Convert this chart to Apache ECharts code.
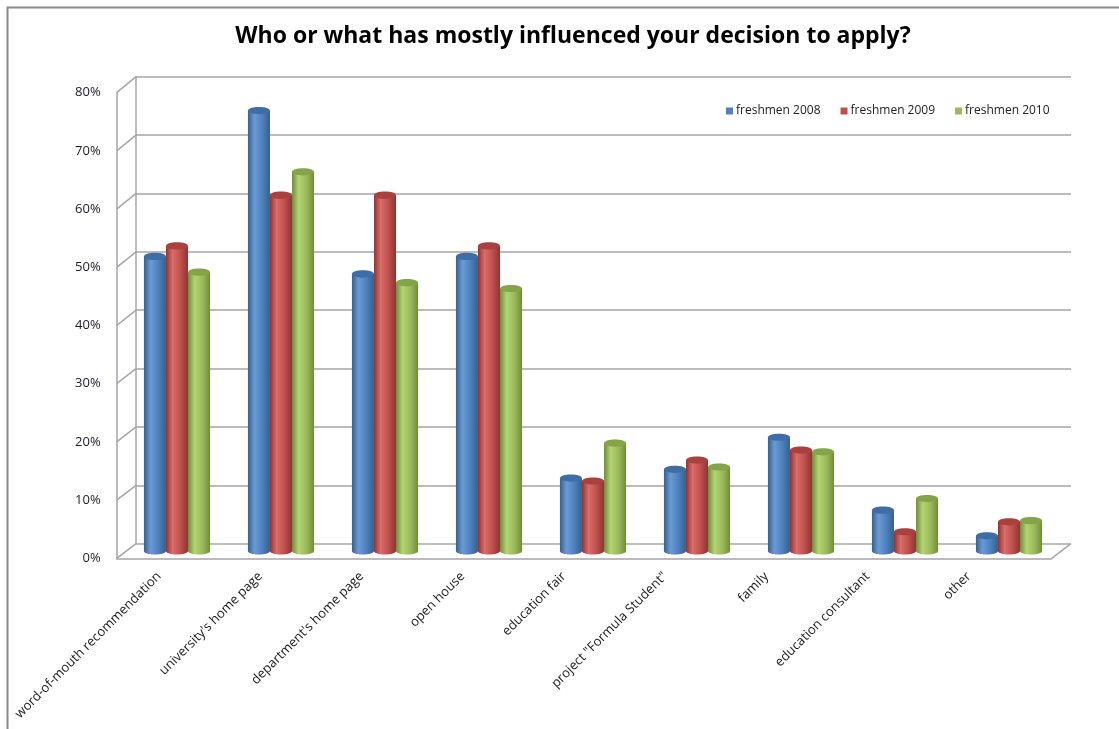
<!DOCTYPE html>
<html>
<head>
<meta charset="utf-8">
<script src="https://cdn.jsdelivr.net/npm/echarts@6/dist/echarts.min.js"></script>
<style>html,body{margin:0;padding:0;background:#fff}#c{width:1119px;height:729px}</style>
</head>
<body>
<div id="c"></div>
<script>
const titleText = 'Who or what has mostly influenced your decision to apply?';
const categories = ['word-of-mouth recommendation', "university's home page", "department's home page", 'open house', 'education fair', 'project "Formula Student"', 'family', 'education consultant', 'other'];
const seriesNames = ['freshmen 2008', 'freshmen 2009', 'freshmen 2010'];
const v2008 = [50.5, 75.5, 47.5, 50.5, 12.5, 14.0, 19.5, 7.0, 2.6];
const v2009 = [52.3, 61.0, 61.0, 52.3, 12.0, 15.6, 17.3, 3.3, 5.0];
const v2010 = [47.8, 65.0, 46.0, 45.0, 18.5, 14.4, 17.0, 9.0, 5.2];
const yMin = 0, yMax = 80, yStep = 10;

const palette = [
  {base: '#4F81BD', light: '#6A9AD6', dark: '#36608F', top: '#3F6DA6'},
  {base: '#C0504D', light: '#D96D6A', dark: '#8E3432', top: '#A9413E'},
  {base: '#9BBB59', light: '#B3D274', dark: '#718C3A', top: '#85A449'}
];
const values = [v2008, v2009, v2010];
const FONT = 'Open Sans';

function grad(p) {
  return new echarts.graphic.LinearGradient(0, 0, 1, 0, [
    {offset: 0, color: p.dark},
    {offset: 0.3, color: p.light},
    {offset: 0.65, color: p.base},
    {offset: 1, color: p.dark}
  ]);
}

function makeRender(si) {
  return function (params, api) {
    const ci = api.value(0), v = api.value(1);
    const top = api.coord([ci, v]);
    const base = api.coord([ci, 0]);
    const band = api.size([1, 0])[0];
    const w = band * 0.212;
    const cx = top[0] + (si - 1) * w;
    const ry = 3.6;
    const p = palette[si];
    return {
      type: 'group',
      children: [
        {type: 'ellipse', shape: {cx: cx, cy: base[1], rx: w / 2, ry: ry}, style: {fill: grad(p)}},
        {type: 'rect', shape: {x: cx - w / 2, y: top[1], width: w, height: base[1] - top[1]}, style: {fill: grad(p)}},
        {type: 'ellipse', shape: {cx: cx, cy: top[1], rx: w / 2, ry: ry}, style: {fill: p.top}}
      ]
    };
  };
}

const chart = echarts.init(document.getElementById('c'));

const series = seriesNames.map((name, si) => ({
  name: name,
  type: 'custom',
  xAxisIndex: 2,
  yAxisIndex: 2,
  itemStyle: {color: palette[si].base},
  renderItem: makeRender(si),
  encode: {x: 0, y: 1},
  data: values[si].map((v, i) => [i, v]),
  z: 5
}));

const option = {
  animation: false,
  backgroundColor: '#ffffff',
  title: {
    text: titleText,
    left: 568,
    textAlign: 'center',
    top: 20,
    textStyle: {fontFamily: FONT, fontSize: 23, fontWeight: 'bold', color: '#000'}
  },
  legend: {
    data: seriesNames,
    left: 721,
    top: 100,
    icon: 'rect',
    itemWidth: 7,
    itemHeight: 7,
    itemGap: 20,
    textStyle: {fontFamily: FONT, fontSize: 12, color: '#222', padding: [0, 0, 0, -2]}
  },
  grid: [
    {left: 136, right: 48, top: 76.7, bottom: 185.3},
    {left: 116.7, right: 67.3, top: 92.7, bottom: 170.7},
    {left: 125, right: 58, top: 84.3, bottom: 178},
    {left: 108.5, right: 99.5, top: 92.7, bottom: 170.7}
  ],
  xAxis: [
    {gridIndex: 0, type: 'value', min: 0, max: 1, show: false},
    {gridIndex: 1, type: 'value', min: 0, max: 1, axisLine: {show: true, lineStyle: {color: '#a6a6a6', width: 1.5}}, axisTick: {show: false}, axisLabel: {show: false}, splitLine: {show: false}},
    {gridIndex: 2, type: 'category', data: categories, show: false},
    {gridIndex: 3, type: 'category', data: categories, axisLine: {show: false}, axisTick: {show: false},
      axisLabel: {interval: 0, rotate: 45, margin: 16, fontFamily: FONT, fontSize: 13, color: '#1a1a1a'}}
  ],
  yAxis: [
    {gridIndex: 0, type: 'value', min: yMin, max: yMax, interval: yStep,
      axisLine: {show: true, lineStyle: {color: '#a6a6a6', width: 1.5}}, axisTick: {show: false}, axisLabel: {show: false},
      splitLine: {show: true, lineStyle: {color: '#a6a6a6', width: 1.5}}},
    {gridIndex: 1, type: 'value', min: yMin, max: yMax, interval: yStep,
      axisLine: {show: true, lineStyle: {color: '#a6a6a6', width: 1.5}}, axisTick: {show: false}, splitLine: {show: false},
      axisLabel: {margin: 16, fontFamily: FONT, fontSize: 13, color: '#1a1a2e', formatter: v => v + '%'}},
    {gridIndex: 2, type: 'value', min: yMin, max: yMax, show: false},
    {gridIndex: 3, type: 'value', min: yMin, max: yMax, show: false}
  ],
  series: series
};
chart.setOption(option);

// 3D wall/floor edges derived from the axes
const edges = [];
for (let v = yMin; v <= yMax; v += yStep) {
  const a = chart.convertToPixel({xAxisIndex: 1, yAxisIndex: 1}, [0, v]);
  const b = chart.convertToPixel({xAxisIndex: 0, yAxisIndex: 0}, [0, v]);
  edges.push({type: 'line', shape: {x1: a[0], y1: a[1], x2: b[0], y2: b[1]}, style: {stroke: '#a6a6a6', lineWidth: 1.5}, z: 1});
}
const fr = chart.convertToPixel({xAxisIndex: 1, yAxisIndex: 1}, [1, 0]);
const br = chart.convertToPixel({xAxisIndex: 0, yAxisIndex: 0}, [1, 0]);
edges.push({type: 'line', shape: {x1: fr[0], y1: fr[1], x2: br[0], y2: br[1]}, style: {stroke: '#a6a6a6', lineWidth: 1.5}, z: 1});
edges.push({type: 'rect', shape: {x: 7.5, y: 7.5, width: 1300, height: 900}, style: {fill: null, stroke: '#8a8a8a', lineWidth: 2}, z: 0});
chart.setOption({graphic: edges});
</script>
</body>
</html>
